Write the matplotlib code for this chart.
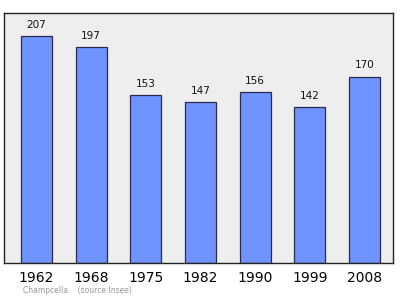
import matplotlib
matplotlib.use('Agg')
import matplotlib.pyplot as plt

# Population de Champcella
years = ['1962', '1968', '1975', '1982', '1990', '1999', '2008']
population = [207, 197, 153, 147, 156, 142, 170]

fig = plt.figure(figsize=(4, 2.99), dpi=100)
ax = fig.add_axes([0.01, 0.1204, 0.9725, 0.8361])
ax.set_facecolor('#eeeeee')

x = range(len(years))
ax.bar(x, population, width=0.57, color='#7094ff', edgecolor='#2a2a50', linewidth=0.9)

for i, v in zip(x, population):
    ax.annotate(str(v), (i, v), xytext=(0, 4.5), textcoords='offset points',
                ha='center', va='bottom', fontsize=7.5, color='#111111')

ax.set_xlim(-0.594, 6.52)
ax.set_ylim(0, 228)
ax.set_yticks([])
ax.set_xticks(list(x))
ax.set_xticklabels(years, fontsize=10)
ax.tick_params(axis='x', length=0, pad=6)
for s in ax.spines.values():
    s.set_linewidth(1.0)
    s.set_color('#222222')

fig.text(0.058, 0.02, 'Champcella    (source:Insee)', fontsize=5.5, color='#999999')

fig.savefig('out.png', dpi=100)
